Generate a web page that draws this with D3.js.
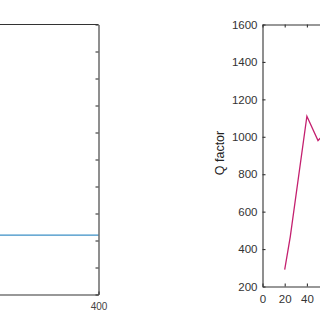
<!DOCTYPE html>
<html>
<head>
<meta charset="utf-8">
<script src="https://cdn.jsdelivr.net/npm/d3@7"></script>
<style>
  body { margin: 0; background: #fff; }
  svg { display: block; font-family: "Liberation Sans", Arial, sans-serif; }
</style>
</head>
<body>
<div id="chart"></div>
<script>
// left panel (mostly cropped): flat blue line
const leftX = [0, 400];
const leftY = [2.2, 2.2];
const leftXTicks = [400]; // only the visible one
const leftYTicks = [0, 1, 2, 3, 4, 5, 6, 7, 8, 9, 10];

// right panel: Q factor
const qX = [20, 25, 40, 50, 60];
const qY = [290, 465, 1110, 980, 1040];
const qXTicks = [0, 20, 40]; // visible part of the axis
const qYTicks = [200, 400, 600, 800, 1000, 1200, 1400, 1600];

const W = 320, H = 320;
const svg = d3.select("#chart").append("svg")
  .attr("width", W).attr("height", H);

const axisColor = "#333";

// ---- left panel ----
const lx = d3.scaleLinear().domain([0, 400]).range([-520, 98.5]);
const ly = d3.scaleLinear().domain([0, 10]).range([294.5, 24.5]);

const left = svg.append("g");

left.append("path")
  .datum(leftX.map((d, i) => [d, leftY[i]]))
  .attr("fill", "none")
  .attr("stroke", "#3b8fc6")
  .attr("stroke-width", 1.3)
  .attr("d", d3.line().x(d => lx(d[0])).y(d => ly(d[1])));

// bottom axis
left.append("g")
  .attr("transform", "translate(0,294.5)")
  .call(d3.axisBottom(lx).tickValues(leftXTicks).tickSizeInner(-3).tickSizeOuter(0).tickPadding(8).tickFormat(d3.format("d")))
  .call(g => g.selectAll("text").attr("font-size", 10).attr("fill", "#444"));
// top border
left.append("line").attr("x1", -520).attr("x2", 98.5).attr("y1", 24.5).attr("y2", 24.5);
// right side with inward ticks
left.append("g")
  .attr("transform", "translate(98.5,0)")
  .call(d3.axisRight(ly).tickValues(leftYTicks).tickSizeInner(-3).tickSizeOuter(0).tickFormat(""));
left.selectAll("path.domain, line").attr("stroke", axisColor).attr("stroke-width", 1.1);

// ---- right panel ----
const rx = d3.scaleLinear().domain([0, 80]).range([262.5, 351.3]);
const ry = d3.scaleLinear().domain([200, 1600]).range([286.5, 24.5]);

const right = svg.append("g");

right.append("path")
  .datum(qX.map((d, i) => [d, qY[i]]))
  .attr("fill", "none")
  .attr("stroke", "#c4206f")
  .attr("stroke-width", 1.3)
  .attr("d", d3.line().x(d => rx(d[0])).y(d => ry(d[1])));

right.append("g")
  .attr("transform", "translate(0,286.5)")
  .call(d3.axisBottom(rx).tickValues(qXTicks).tickSizeInner(-3).tickSizeOuter(0).tickPadding(8).tickFormat(d3.format("d")));
right.append("g")
  .attr("transform", "translate(0,24.5)")
  .call(d3.axisTop(rx).tickValues(qXTicks).tickSizeInner(-3).tickSizeOuter(0).tickFormat(""));
right.append("g")
  .attr("transform", "translate(262.5,0)")
  .call(d3.axisLeft(ry).tickValues(qYTicks).tickSizeInner(-3).tickSizeOuter(0).tickPadding(5).tickFormat(d3.format("d")));

right.selectAll("path.domain, line").attr("stroke", axisColor).attr("stroke-width", 1.1);
right.selectAll("text").attr("font-size", 11.5).attr("fill", "#333")
  .attr("font-family", "Liberation Sans, Arial, sans-serif");

right.append("text")
  .attr("transform", "translate(224,153) rotate(-90)")
  .attr("text-anchor", "middle")
  .attr("font-size", 12.5)
  .attr("fill", "#222")
  .text("Q factor");
</script>
</body>
</html>
